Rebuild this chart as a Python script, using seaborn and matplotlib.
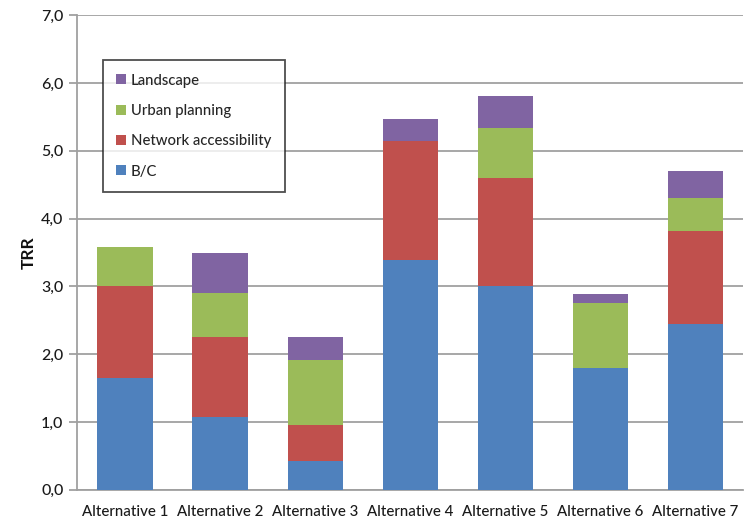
import matplotlib
matplotlib.use("Agg")
import matplotlib.pyplot as plt
from matplotlib.patches import Patch
from matplotlib.ticker import FuncFormatter
import numpy as np
import pandas as pd
import seaborn as sns

categories = ["Alternative 1", "Alternative 2", "Alternative 3", "Alternative 4",
              "Alternative 5", "Alternative 6", "Alternative 7"]
bc = [1.65, 1.08, 0.42, 3.39, 3.01, 1.80, 2.45]
network = [1.35, 1.17, 0.54, 1.75, 1.59, 0.00, 1.37]
urban = [0.58, 0.645, 0.95, 0.00, 0.74, 0.95, 0.48]
landscape = [0.00, 0.60, 0.35, 0.33, 0.46, 0.14, 0.40]

series_names = ["B/C", "Network accessibility", "Urban planning", "Landscape"]
series_values = [bc, network, urban, landscape]
colors = ["#4F81BD", "#C0504D", "#9BBB59", "#8064A2"]

sns.set_theme(style="white")
plt.rcParams["font.family"] = ["Lato", "DejaVu Sans"]

fig = plt.figure(figsize=(7.45, 5.21), dpi=100)
ax = fig.add_axes([0.104, 0.06, 0.893, 0.911])

df = pd.DataFrame({"category": categories})
bottom = np.zeros(len(categories))
for name, vals, col in zip(series_names, series_values, colors):
    df[name] = vals
    sns.barplot(data=df, x="category", y=name, color=col, width=0.58,
                bottom=bottom, saturation=1, ax=ax, zorder=3, linewidth=0)
    bottom = bottom + np.array(vals)

ax.set_ylim(0, 7)
ax.set_xlim(-0.5, 6.5)
ax.set_yticks(np.arange(0, 7.01, 1.0))
ax.yaxis.set_major_formatter(FuncFormatter(lambda v, p: f"{v:.1f}".replace(".", ",")))
ax.grid(axis="y", color="#A0A0A0", linewidth=1.3, zorder=0)
ax.set_axisbelow(True)

for side in ["top", "right"]:
    ax.spines[side].set_visible(False)
for side in ["left", "bottom"]:
    ax.spines[side].set_color("#A0A0A0")
    ax.spines[side].set_linewidth(1.3)

ax.tick_params(axis="y", which="major", left=True, length=6, width=1.3,
               color="#A0A0A0", labelsize=11.5, labelcolor="#1a1a1a", pad=4)
ax.tick_params(axis="x", which="major", bottom=False, labelsize=10.8,
               labelcolor="#1a1a1a", pad=5)
for lab in ax.get_xticklabels() + ax.get_yticklabels():
    lab.set_fontweight("medium")
ax.set_xlabel("")
ax.set_ylabel("TRR", fontsize=12.5, fontweight="bold", color="#111111", labelpad=3)

handles = [Patch(facecolor=c, edgecolor="none") for c in colors[::-1]]
labels = series_names[::-1]
leg = ax.legend(handles, labels, loc="upper left", bbox_to_anchor=(0.038, 0.905),
                frameon=True, fancybox=False, edgecolor="#222222",
                prop={"size": 10.7, "weight": "medium"},
                handlelength=0.65, handleheight=0.65, handletextpad=0.35,
                labelspacing=1.1, borderpad=0.9, borderaxespad=0)
leg.get_frame().set_linewidth(1.3)
leg.set_zorder(5)

fig.savefig("out.png", dpi=100)
